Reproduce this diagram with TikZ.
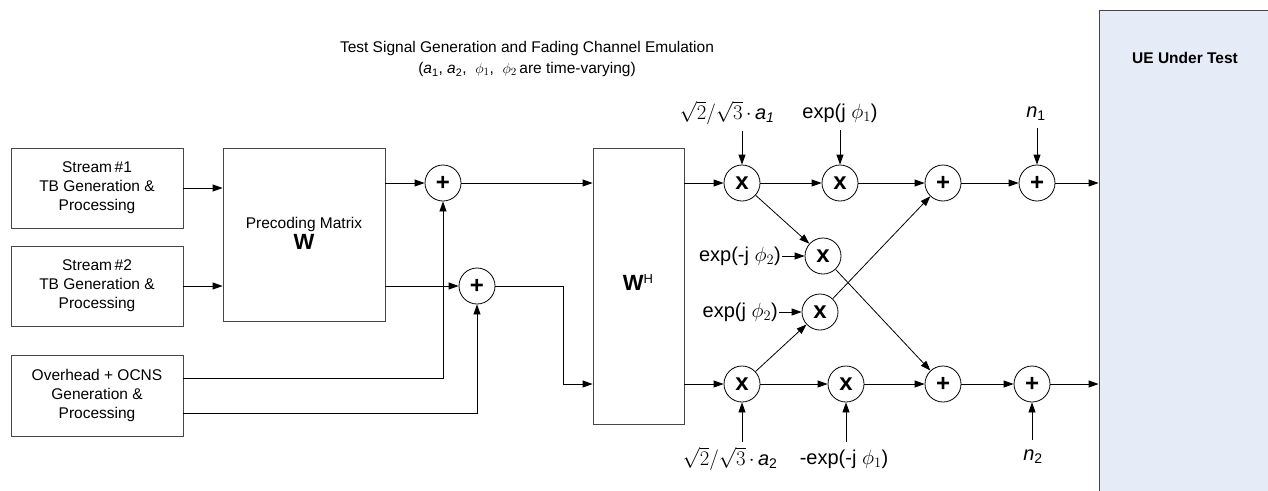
\documentclass[tikz,border=0pt]{standalone}
\usepackage{fontspec}
\setmainfont{Liberation Sans}
\usetikzlibrary{arrows.meta}
\definecolor{uefill}{RGB}{230,236,247}
\definecolor{boxline}{RGB}{70,70,70}
\begin{document}
\begin{tikzpicture}[x=1pt,y=-1pt,
  blk/.style={draw=boxline, line width=0.8pt, inner sep=0pt, align=center,
    font=\fontsize{15.5}{19}\selectfont},
  txt/.style={inner sep=1pt, align=center, font=\fontsize{15.5}{19}\selectfont},
  lab/.style={inner sep=1pt, align=center, font=\fontsize{20}{22}\selectfont},
  opc/.style={circle, draw, line width=0.8pt, minimum size=36pt, inner sep=0pt,
    font=\fontsize{24}{24}\selectfont\bfseries},
  conn/.style={line width=0.8pt, -{Triangle[length=10pt,width=7pt]}},
  ]
\useasboundingbox (0,0) rectangle (1268,490);

% title and UE
\node[txt, font=\fontsize{15.5}{21}\selectfont] (title) at (527,59)
  {Test Signal Generation and Fading Channel Emulation\\
   (\textit{a}\textsubscript{1}, \textit{a}\textsubscript{2},~ $\phi_1$,~ $\phi_2$\,are time-varying)};
\node[draw=boxline, line width=0.8pt, fill=uefill, minimum width=173pt, minimum height=490pt,
  inner sep=0pt] (UE) at (1185.5,255) {};
\node[txt, font=\fontsize{15.5}{19}\selectfont\bfseries] (uelab) at (1185,58) {UE Under Test};

% left blocks
\node[blk, minimum width=172pt, minimum height=80pt] (S1) at (97,188)
  {Stream\,\#1\\TB Generation \&\\Processing};
\node[blk, minimum width=172pt, minimum height=80pt] (S2) at (97,286)
  {Stream\,\#2\\TB Generation \&\\Processing};
\node[blk, minimum width=172pt, minimum height=81pt] (OH) at (97,395.5)
  {Overhead + OCNS\\Generation \&\\Processing};
\node[blk, minimum width=162pt, minimum height=173pt] (PM) at (304,234.5) {};
\node[txt] (PMlab) at (304,233) {Precoding Matrix\\[2pt]{\fontsize{22}{22}\selectfont\bfseries W}};
\node[blk, minimum width=91pt, minimum height=276pt] (WH) at (638.5,286) {};
\node[txt] (WHlab) at (638,283) {{\fontsize{22}{22}\selectfont\bfseries W}{\fontsize{13}{13}\selectfont\raisebox{7pt}{H}}};

% operators
\node[opc] (P1) at (443,183) {+};
\node[opc] (P2) at (477,286) {+};
\node[opc] (X1) at (742,183) {x};
\node[opc] (X2) at (840,183) {x};
\node[opc] (P3) at (943,183) {+};
\node[opc] (P5) at (1037,183) {+};
\node[opc] (X3) at (823,256) {x};
\node[opc] (X4) at (820,312) {x};
\node[opc] (X5) at (742,384) {x};
\node[opc] (X6) at (846,384) {x};
\node[opc] (P4) at (943,384) {+};
\node[opc] (P6) at (1032,384) {+};

% labels
\node[lab] (La1) at (727,113) {$\sqrt{2}/\sqrt{3}$\,$\cdot$\,\textit{a\textsubscript{1}}};
\node[lab] (Le1) at (840,113) {exp(j $\phi_1$)};
\node[lab, anchor=east] (Le2m) at (782,256) {exp(-j $\phi_2$)};
\node[lab, anchor=east] (Le2p) at (779,312) {exp(j $\phi_2$)};
\node[lab] (La2) at (730,459) {$\sqrt{2}/\sqrt{3}$\,$\cdot$\,\textit{a}\textsubscript{2}};
\node[lab] (Lm1) at (844,459) {-exp(-j $\phi_1$)};
\node[lab] (Ln1) at (1036,114) {\textit{n}\textsubscript{1}};
\node[lab] (Ln2) at (1033,457) {\textit{n}\textsubscript{2}};

\coordinate (ca1) at (742,131);
\coordinate (ce1) at (840,130);
\coordinate (ca2) at (742,442);
\coordinate (cm1) at (846,442);
\coordinate (cn1) at (1037,128);
\coordinate (cn2) at (1032,440);
\coordinate (bend) at (563,286);

% connectors left
\draw[conn] (S1.east) -- (S1.east -| PM.west);
\draw[conn] (S2.east) -- (S2.east -| PM.west);
\draw[conn] (PM.east |- P1) -- (P1);
\draw[conn] (PM.east |- P2) -- (P2);
\draw[conn] ([yshift=17.5pt]OH.east) -| (P1);
\draw[conn] ([yshift=-17.5pt]OH.east) -| (P2);
\draw[conn] (P1) -- (P1 -| WH.west);
\draw[conn] (P2) -- (bend) |- (WH.west |- X5);

% right network
\draw[conn] (WH.east |- X1) -- (X1);
\draw[conn] (WH.east |- X5) -- (X5);
\draw[conn] (X1) -- (X2);
\draw[conn] (X2) -- (P3);
\draw[conn] (P3) -- (P5);
\draw[conn] (P5) -- (P5 -| UE.west);
\draw[conn] (X5) -- (X6);
\draw[conn] (X6) -- (P4);
\draw[conn] (P4) -- (P6);
\draw[conn] (P6) -- (P6 -| UE.west);
\draw[conn] (X1) -- (X3);
\draw[conn] (X3) -- (P4);
\draw[conn] (X5) -- (X4);
\draw[conn] (X4) -- (P3);

% inputs
\draw[conn] (ca1) -- (X1);
\draw[conn] (ce1) -- (X2);
\draw[conn] (Le2m.east) -- (X3);
\draw[conn] (Le2p.east) -- (X4);
\draw[conn] (ca2) -- (X5);
\draw[conn] (cm1) -- (X6);
\draw[conn] (cn1) -- (P5);
\draw[conn] (cn2) -- (P6);
\end{tikzpicture}
\end{document}
